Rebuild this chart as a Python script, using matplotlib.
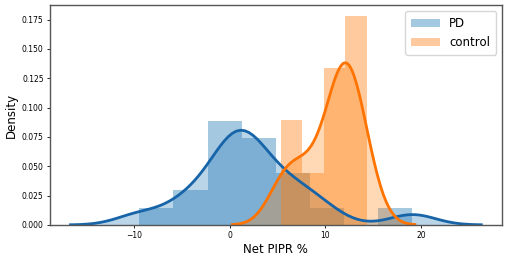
import numpy as np
import matplotlib.pyplot as plt

pd_values = [-9.44, -5.2, -4.0, -1.8, -1.0, -0.3, 0.3, 0.7, 1.1,
             1.4, 1.9, 2.5, 3.3, 4.2, 5.5, 6.8, 8.0, 10.0, 19.1]
control_values = [5.33, 6.9, 8.7, 10.6, 11.2, 11.8, 12.2, 12.7, 13.2, 14.3]

groups = ["PD", "control"]
bin_counts = [8, 4]
colors = ["#1f77b4", "#ff7f0e"]
line_colors = ["#1764a8", "#ff7300"]


def kde_curve(x, gridsize=100, cut=3):
    # gaussian kde with scott bandwidth (statsmodels style, like seaborn distplot)
    x = np.asarray(x, dtype=float)
    n = len(x)
    iqr = (np.percentile(x, 75) - np.percentile(x, 25)) / 1.349
    a = min(np.std(x, ddof=1), iqr)
    bw = 1.059 * a * n ** (-0.2)
    grid = np.linspace(x.min() - cut * bw, x.max() + cut * bw, gridsize)
    z = (grid[:, None] - x[None, :]) / bw
    dens = np.exp(-0.5 * z ** 2).sum(axis=1) / (n * bw * np.sqrt(2 * np.pi))
    return grid, dens


fig = plt.figure(figsize=(5.1, 2.57), dpi=100)
ax = fig.add_axes([0.098, 0.125, 0.886, 0.855])

for vals, name, nb, c, lc in zip([pd_values, control_values], groups, bin_counts, colors, line_colors):
    ax.hist(vals, bins=nb, density=True, color=c, alpha=0.4, label=name)
    gx, gy = kde_curve(vals)
    ax.fill_between(gx, gy, color=c, alpha=0.3, linewidth=0)
    ax.plot(gx, gy, color=lc, linewidth=2)

ax.set_yticks(np.arange(0, 0.176, 0.025))
ax.set_xticks([-10, 0, 10, 20])
ax.tick_params(labelsize=5.5, length=2.5, width=0.6, pad=2)
for s in ax.spines.values():
    s.set_color("#555555")
    s.set_linewidth(1)

ax.set_ylabel("Density", fontsize=8.5, labelpad=3)
ax.set_xlabel("Net PIPR %", fontsize=8.5, labelpad=2)
ax.legend(loc="upper right", fontsize=8.5, handlelength=2.4, borderpad=0.5)

fig.savefig("out.png", dpi=100)
